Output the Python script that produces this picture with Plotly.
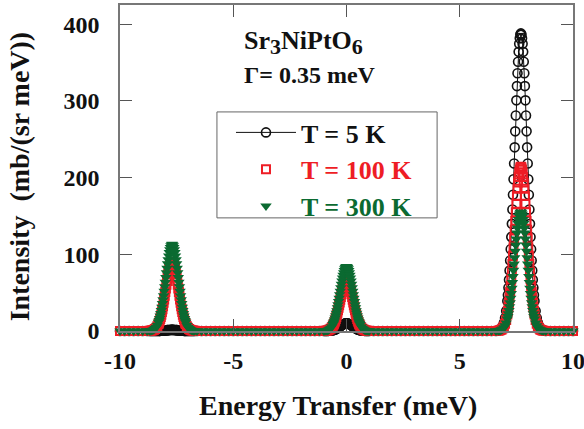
import plotly.graph_objects as go

# ---------------- data ----------------
# energy grid (meV): coarse on the flat baseline, fine across the three peaks
e_base1 = [-10.0, -9.8, -9.6, -9.4, -9.2, -9.0, -8.8]
e_peak1 = [-8.70, -8.65, -8.60, -8.55, -8.50, -8.45, -8.40, -8.35,
           -8.300, -8.275, -8.250, -8.225, -8.200, -8.175, -8.150, -8.125, -8.100, -8.075,
           -8.050, -8.025, -8.000, -7.975, -7.950, -7.925, -7.900, -7.875, -7.850, -7.825,
           -7.800, -7.775, -7.750, -7.725, -7.700, -7.675, -7.650, -7.625, -7.600, -7.575,
           -7.550, -7.525, -7.500, -7.475, -7.450, -7.425, -7.400, -7.375, -7.350, -7.325,
           -7.300, -7.275, -7.250, -7.225, -7.200, -7.175, -7.150, -7.125, -7.100,
           -7.05, -7.00, -6.95, -6.90, -6.85, -6.80, -6.75, -6.70]
e_base2 = [-6.6, -6.4, -6.2, -6.0, -5.8, -5.6, -5.4, -5.2, -5.0, -4.8, -4.6, -4.4, -4.2, -4.0,
           -3.8, -3.6, -3.4, -3.2, -3.0, -2.8, -2.6, -2.4, -2.2, -2.0, -1.8, -1.6, -1.4, -1.2]
e_peak2 = [-1.00, -0.95, -0.90, -0.85, -0.80, -0.75, -0.70, -0.65,
           -0.600, -0.575, -0.550, -0.525, -0.500, -0.475, -0.450, -0.425, -0.400, -0.375,
           -0.350, -0.325, -0.300, -0.275, -0.250, -0.225, -0.200, -0.175, -0.150, -0.125,
           -0.100, -0.075, -0.050, -0.025, 0.000, 0.025, 0.050, 0.075, 0.100, 0.125,
           0.150, 0.175, 0.200, 0.225, 0.250, 0.275, 0.300, 0.325, 0.350, 0.375,
           0.400, 0.425, 0.450, 0.475, 0.500, 0.525, 0.550, 0.575, 0.600,
           0.65, 0.70, 0.75, 0.80, 0.85, 0.90, 0.95, 1.00]
e_base3 = [1.2, 1.4, 1.6, 1.8, 2.0, 2.2, 2.4, 2.6, 2.8, 3.0, 3.2, 3.4, 3.6, 3.8,
           4.0, 4.2, 4.4, 4.6, 4.8, 5.0, 5.2, 5.4, 5.6, 5.8, 6.0, 6.2, 6.4, 6.6]
e_peak3 = [6.70, 6.75, 6.80, 6.85, 6.90, 6.95, 7.00, 7.05,
           7.100, 7.125, 7.150, 7.175, 7.200, 7.225, 7.250, 7.275, 7.300, 7.325,
           7.350, 7.375, 7.400, 7.425, 7.450, 7.475, 7.500, 7.525, 7.550, 7.575,
           7.600, 7.625, 7.650, 7.675, 7.700, 7.725, 7.750, 7.775, 7.800, 7.825,
           7.850, 7.875, 7.900, 7.925, 7.950, 7.975, 8.000, 8.025, 8.050, 8.075,
           8.100, 8.125, 8.150, 8.175, 8.200, 8.225, 8.250, 8.275, 8.300,
           8.35, 8.40, 8.45, 8.50, 8.55, 8.60, 8.65, 8.70]
e_base4 = [8.8, 9.0, 9.2, 9.4, 9.6, 9.8, 10.0]

zero_short = [0, 0, 0, 0, 0, 0, 0]
zero_long = [0, 0, 0, 0, 0, 0, 0, 0, 0, 0, 0, 0, 0, 0,
             0, 0, 0, 0, 0, 0, 0, 0, 0, 0, 0, 0, 0, 0]

# T = 5 K
t5_peak1 = [0.0, 0.0, 0.0, 0.0, 0.0, 0.0, 0.1, 0.1,
            0.1, 0.2, 0.2, 0.2, 0.3, 0.3, 0.4, 0.4, 0.5, 0.6, 0.7, 0.7, 0.8, 0.9, 1.0, 1.1,
            1.1, 1.2, 1.3, 1.3, 1.4, 1.4, 1.5, 1.5, 1.5, 1.5, 1.5, 1.4, 1.4, 1.3, 1.3, 1.2,
            1.1, 1.1, 1.0, 0.9, 0.8, 0.7, 0.7, 0.6, 0.5, 0.4, 0.4, 0.3, 0.3, 0.2, 0.2, 0.2, 0.1,
            0.1, 0.1, 0.0, 0.0, 0.0, 0.0, 0.0, 0.0]
t5_peak2 = [0.0, 0.0, 0.1, 0.1, 0.2, 0.3, 0.4, 0.7,
            1.0, 1.2, 1.5, 1.7, 2.0, 2.4, 2.8, 3.2, 3.6, 4.1, 4.6, 5.1, 5.6, 6.2, 6.7, 7.2,
            7.8, 8.2, 8.7, 9.1, 9.4, 9.7, 9.8, 10.0, 10.0, 10.0, 9.8, 9.7, 9.4, 9.1, 8.7, 8.2,
            7.8, 7.2, 6.7, 6.2, 5.6, 5.1, 4.6, 4.1, 3.6, 3.2, 2.8, 2.4, 2.0, 1.7, 1.5, 1.2, 1.0,
            0.7, 0.4, 0.3, 0.2, 0.1, 0.1, 0.0, 0.0]
t5_peak3 = [0.7, 1.2, 2.2, 3.9, 6.6, 10.7, 17.0, 26.2,
            39.2, 46.9, 56.3, 66.7, 78.8, 92.0, 106.7, 122.6, 139.7, 158.3, 177.7, 197.9,
            218.4, 239.4, 260.3, 280.9, 300.7, 319.3, 336.0, 351.1, 363.9, 374.4, 381.8, 386.4,
            388.0,
            386.4, 381.8, 374.4, 363.9, 351.1, 336.0, 319.3, 300.7, 280.9, 260.3, 239.4, 218.4,
            197.9, 177.7, 158.3, 139.7, 122.6, 106.7, 92.0, 78.8, 66.7, 56.3, 46.9, 39.2,
            26.2, 17.0, 10.7, 6.6, 3.9, 2.2, 1.2, 0.7]

# T = 100 K
t100_peak1 = [0.2, 0.3, 0.5, 0.9, 1.5, 2.5, 4.0, 6.1,
              9.1, 10.9, 13.1, 15.5, 18.3, 21.3, 24.8, 28.4, 32.4, 36.7, 41.2, 45.9,
              50.7, 55.5, 60.4, 65.2, 69.8, 74.1, 77.9, 81.5, 84.4, 86.9, 88.6, 89.6,
              90.0,
              89.6, 88.6, 86.9, 84.4, 81.5, 77.9, 74.1, 69.8, 65.2, 60.4, 55.5, 50.7,
              45.9, 41.2, 36.7, 32.4, 28.4, 24.8, 21.3, 18.3, 15.5, 13.1, 10.9, 9.1,
              6.1, 4.0, 2.5, 1.5, 0.9, 0.5, 0.3, 0.2]
t100_peak2 = [0.1, 0.2, 0.4, 0.7, 1.1, 1.8, 2.9, 4.5,
              6.7, 8.0, 9.6, 11.4, 13.4, 15.6, 18.2, 20.9, 23.8, 26.9, 30.2, 33.7,
              37.2, 40.7, 44.3, 47.8, 51.2, 54.3, 57.2, 59.7, 61.9, 63.7, 64.9, 65.7,
              66.0,
              65.7, 64.9, 63.7, 61.9, 59.7, 57.2, 54.3, 51.2, 47.8, 44.3, 40.7, 37.2,
              33.7, 30.2, 26.9, 23.8, 20.9, 18.2, 15.6, 13.4, 11.4, 9.6, 8.0, 6.7,
              4.5, 2.9, 1.8, 1.1, 0.7, 0.4, 0.2, 0.1]
t100_peak3 = [0.4, 0.7, 1.2, 2.1, 3.6, 5.9, 9.4, 14.4,
              21.6, 25.9, 31.0, 36.8, 43.4, 50.7, 58.9, 67.6, 77.0, 87.3, 98.0, 109.1,
              120.5, 132.0, 143.6, 154.9, 165.9, 176.1, 185.3, 193.7, 200.7, 206.5, 210.6, 213.1,
              214.0,
              213.1, 210.6, 206.5, 200.7, 193.7, 185.3, 176.1, 165.9, 154.9, 143.6, 132.0, 120.5,
              109.1, 98.0, 87.3, 77.0, 67.6, 58.9, 50.7, 43.4, 36.8, 31.0, 25.9, 21.6,
              14.4, 9.4, 5.9, 3.6, 2.1, 1.2, 0.7, 0.4]

# T = 300 K
t300_peak1 = [0.2, 0.4, 0.6, 1.1, 1.9, 3.1, 5.0, 7.6,
              11.4, 13.7, 16.4, 19.4, 22.9, 26.8, 31.1, 35.7, 40.7, 46.1, 51.8, 57.6,
              63.6, 69.7, 75.8, 81.8, 87.6, 93.0, 97.9, 102.3, 106.0, 109.0, 111.2, 112.5,
              113.0,
              112.5, 111.2, 109.0, 106.0, 102.3, 97.9, 93.0, 87.6, 81.8, 75.8, 69.7, 63.6,
              57.6, 51.8, 46.1, 40.7, 35.7, 31.1, 26.8, 22.9, 19.4, 16.4, 13.7, 11.4,
              7.6, 5.0, 3.1, 1.9, 1.1, 0.6, 0.4, 0.2]
t300_peak2 = [0.1, 0.3, 0.5, 0.8, 1.4, 2.3, 3.7, 5.7,
              8.5, 10.2, 12.2, 14.4, 17.1, 19.9, 23.1, 26.5, 30.2, 34.3, 38.5, 42.8,
              47.3, 51.8, 56.4, 60.8, 65.1, 69.1, 72.7, 76.0, 78.8, 81.1, 82.7, 83.7,
              84.0,
              83.7, 82.7, 81.1, 78.8, 76.0, 72.7, 69.1, 65.1, 60.8, 56.4, 51.8, 47.3,
              42.8, 38.5, 34.3, 30.2, 26.5, 23.1, 19.9, 17.1, 14.4, 12.2, 10.2, 8.5,
              5.7, 3.7, 2.3, 1.4, 0.8, 0.5, 0.3, 0.1]
t300_peak3 = [0.3, 0.5, 0.9, 1.6, 2.6, 4.3, 6.8, 10.5,
              15.7, 18.8, 22.5, 26.7, 31.5, 36.7, 42.6, 49.0, 55.8, 63.2, 71.0, 79.1,
              87.3, 95.6, 104.0, 112.2, 120.1, 127.6, 134.2, 140.3, 145.4, 149.6, 152.5, 154.4,
              155.0,
              154.4, 152.5, 149.6, 145.4, 140.3, 134.2, 127.6, 120.1, 112.2, 104.0, 95.6, 87.3,
              79.1, 71.0, 63.2, 55.8, 49.0, 42.6, 36.7, 31.5, 26.7, 22.5, 18.8, 15.7,
              10.5, 6.8, 4.3, 2.6, 1.6, 0.9, 0.5, 0.3]

series_names = ["T = 5 K", "T = 100 K", "T = 300 K"]
x_ticks = [-10, -5, 0, 5, 10]
y_ticks = [0, 100, 200, 300, 400]

energy = e_base1 + e_peak1 + e_base2 + e_peak2 + e_base3 + e_peak3 + e_base4
i_5K = zero_short + t5_peak1 + zero_long + t5_peak2 + zero_long + t5_peak3 + zero_short
i_100K = zero_short + t100_peak1 + zero_long + t100_peak2 + zero_long + t100_peak3 + zero_short
i_300K = zero_short + t300_peak1 + zero_long + t300_peak2 + zero_long + t300_peak3 + zero_short

# ---------------- figure ----------------
FONT = "Liberation Serif, Times New Roman, serif"
BLACK = "#111111"
RED = "#ee1d25"
GREEN = "#0b6a31"

fig = go.Figure()
fig.add_trace(go.Scatter(
    x=energy, y=i_5K, mode="lines+markers", cliponaxis=False,
    name='<b>%s</b>' % series_names[0],
    line=dict(color=BLACK, width=1),
    marker=dict(symbol="circle-open", size=9, color=BLACK, line=dict(width=1.6, color=BLACK)),
))
fig.add_trace(go.Scatter(
    x=energy, y=i_100K, mode="markers", cliponaxis=False,
    name='<b><span style="color:%s">%s</span></b>' % (RED, series_names[1]),
    marker=dict(symbol="square-open", size=8, color=RED, line=dict(width=2, color=RED)),
))
fig.add_trace(go.Scatter(
    x=energy, y=i_300K, mode="markers", cliponaxis=False,
    name='<b><span style="color:%s">%s</span></b>' % (GREEN, series_names[2]),
    marker=dict(symbol="triangle-down", size=10, color=GREEN, line=dict(width=0)),
))

axis_common = dict(
    ticks="inside", ticklen=12, tickwidth=1, tickcolor="#555555",
    showline=True, linecolor="#777777", linewidth=1.5, mirror="ticks",
    showgrid=False, zeroline=False, ticklabeloverflow="allow", automargin=False,
    tickfont=dict(family=FONT, size=24, color=BLACK),
)
fig.update_xaxes(range=[-10, 10], tickvals=x_ticks,
                 ticktext=["<b>%d</b>" % v for v in x_ticks],
                 ticklabelstandoff=7, **axis_common)
fig.update_yaxes(range=[0, 425], tickvals=y_ticks,
                 ticktext=["<b>%d</b>" % v for v in y_ticks],
                 ticklabelstandoff=14, **axis_common)

fig.update_layout(
    width=584, height=429,
    margin=dict(l=120, r=11, t=5, b=98),
    paper_bgcolor="white", plot_bgcolor="white",
    font=dict(family=FONT, color=BLACK),
    showlegend=True,
    legend=dict(
        x=0.245, y=0.681, xanchor="left", yanchor="top",
        bgcolor="rgba(0,0,0,0)", borderwidth=0,
        font=dict(family=FONT, size=26, color=BLACK),
        itemwidth=60, tracegroupgap=0,
    ),
    shapes=[dict(type="rect", xref="paper", yref="paper",
                 x0=0.214, x1=0.700, y0=0.347, y1=0.672,
                 line=dict(color="#666666", width=1), fillcolor="rgba(0,0,0,0)")],
    annotations=[
        dict(text='<b>Sr<sub><span style="font-size:22px">3</span></sub>NiPtO<sub><span style="font-size:22px">6</span></sub></b>',
             xref="paper", yref="paper",
             x=0.27, y=0.885, xanchor="left", yanchor="middle", showarrow=False,
             font=dict(family=FONT, size=26, color=BLACK)),
        dict(text="<b>\u0393= 0.35 meV</b>", xref="paper", yref="paper",
             x=0.27, y=0.785, xanchor="left", yanchor="middle", showarrow=False,
             font=dict(family=FONT, size=24, color=BLACK)),
        dict(text="<b>Energy Transfer (meV)</b>", xref="paper", yref="paper",
             x=0.481, y=-0.227, xanchor="center", yanchor="middle", showarrow=False,
             font=dict(family=FONT, size=28, color=BLACK)),
        dict(text="<b>Intensity  (mb/(sr meV))</b>", xref="paper", yref="paper",
             x=-0.221, y=0.474, xanchor="center", yanchor="middle", showarrow=False,
             textangle=-90, font=dict(family=FONT, size=28, color=BLACK)),
    ],
)

fig.write_html("out.html")
